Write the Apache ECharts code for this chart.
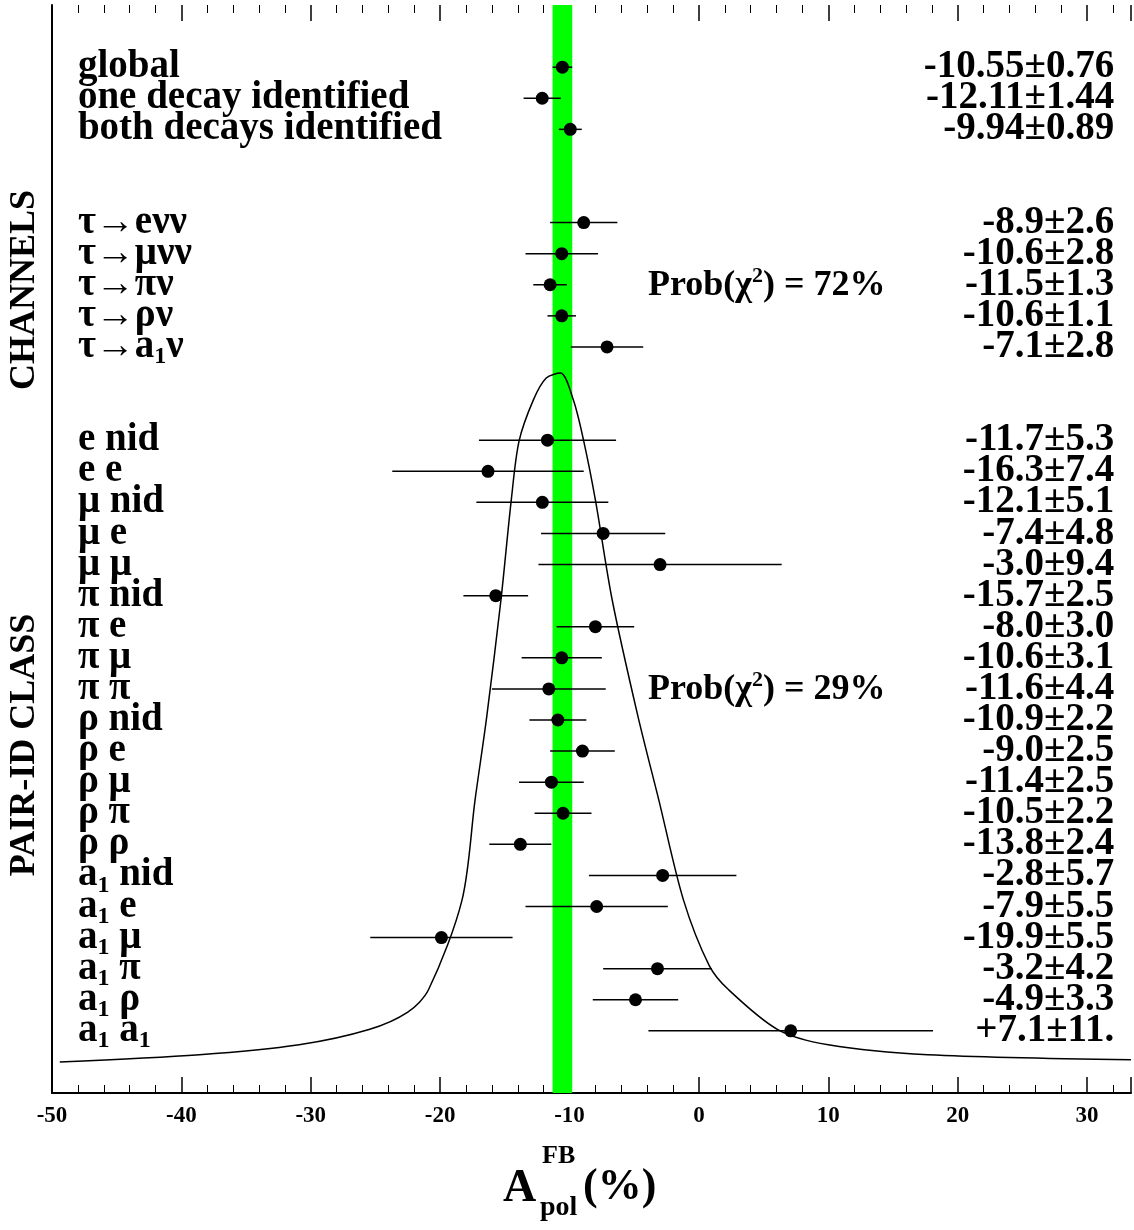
<!DOCTYPE html>
<html><head><meta charset="utf-8">
<script src="https://cdn.jsdelivr.net/npm/echarts@6/dist/echarts.min.js"></script>
<style>html,body{margin:0;background:#fff}#c{width:1134px;height:1230px}</style>
</head><body><div id="c"></div>
<script>
// row labels (rich text), row positions, values and errors
var labels = ['global', 'one decay identified', 'both decays identified',
  'τ→eνν', 'τ→μνν', 'τ→πν', 'τ→ρν', 'τ→a{s|1}ν',
  'e nid', 'e e', 'μ nid', 'μ e', 'μ μ', 'π nid', 'π e', 'π μ', 'π π',
  'ρ nid', 'ρ e', 'ρ μ', 'ρ π', 'ρ ρ',
  'a{s|1} nid', 'a{s|1} e', 'a{s|1} μ', 'a{s|1} π', 'a{s|1} ρ', 'a{s|1} a{s|1}']
var rows = [0, 1, 2, 5, 6, 7, 8, 9, 12, 13, 14, 15, 16, 17, 18, 19, 20, 21, 22, 23, 24, 25, 26, 27, 28, 29, 30, 31]
var values = [-10.55, -12.11, -9.94, -8.9, -10.6, -11.5, -10.6, -7.1,
  -11.7, -16.3, -12.1, -7.4, -3.0, -15.7, -8.0, -10.6, -11.6,
  -10.9, -9.0, -11.4, -10.5, -13.8, -2.8, -7.9, -19.9, -3.2, -4.9, 7.1]
var errors = [0.76, 1.44, 0.89, 2.6, 2.8, 1.3, 1.1, 2.8,
  5.3, 7.4, 5.1, 4.8, 9.4, 2.5, 3.0, 3.1, 4.4,
  2.2, 2.5, 2.5, 2.2, 2.4, 5.7, 5.5, 5.5, 4.2, 3.3, 11]
var valueText = ['-10.55±0.76', '-12.11±1.44', '-9.94±0.89', '-8.9±2.6', '-10.6±2.8', '-11.5±1.3', '-10.6±1.1', '-7.1±2.8',
  '-11.7±5.3', '-16.3±7.4', '-12.1±5.1', '-7.4±4.8', '-3.0±9.4', '-15.7±2.5', '-8.0±3.0', '-10.6±3.1', '-11.6±4.4',
  '-10.9±2.2', '-9.0±2.5', '-11.4±2.5', '-10.5±2.2', '-13.8±2.4', '-2.8±5.7', '-7.9±5.5', '-19.9±5.5', '-3.2±4.2', '-4.9±3.3', '+7.1±11.']
// curve: x value, row position
var curveX = [-49.4, -38.6, -30.9, -25.5, -22.5, -20.9, -18.3, -17.3, -16.4, -15.3, -14.5, -13.9, -12.8, -11.8, -10.7, -9.7, -8.9, -8.0, -6.7, -4.7, -3.1, -1.2, 0.8, 2.3, 6.1, 10, 17.7, 33.4]
var curveY = [32.0, 31.77, 31.45, 30.96, 30.4, 29.68, 26.78, 23.57, 20.9, 17.14, 13.92, 12.03, 10.71, 10.0, 9.84, 10.71, 12.03, 13.92, 17.14, 20.9, 23.57, 26.78, 28.9, 29.68, 30.96, 31.45, 31.77, 31.93]
var band = [-10.55 - 0.76, -10.55 + 0.76]

var font = 'Liberation Serif'
var rich = { s: { fontSize: 24, fontWeight: 'bold', fontFamily: font, color: '#000', verticalAlign: 'bottom', padding: [20, 0, 0, 0] } }
var chart = echarts.init(document.getElementById('c'))
var pts = values.map(function (v, i) { return [v, rows[i], errors[i]] })

var axisCommon = {
  type: 'value', min: -50, max: 33.4, interval: 10,
  axisLine: { onZero: false, lineStyle: { color: '#000', width: 2 } },
  axisTick: { inside: true, length: 16, lineStyle: { color: '#000', width: 1.5 } },
  minorTick: { show: true, splitNumber: 5, length: 8, lineStyle: { color: '#000' } },
  splitLine: { show: false }
}
chart.setOption({
  animation: false,
  grid: { left: 52, right: 0, top: 5, bottom: 137 },
  xAxis: [
    Object.assign({}, axisCommon, {
      position: 'bottom',
      axisLabel: { color: '#000', fontSize: 23, fontWeight: 'bold', fontFamily: font, margin: 12,
        formatter: function (v) { return v > 33 ? '' : v } }
    }),
    Object.assign({}, axisCommon, { position: 'top', axisLine: { show: false, onZero: false }, axisLabel: { show: false } })
  ],
  yAxis: { type: 'value', min: -2, max: 33, inverse: true, axisLine: { show: true, onZero: false, lineStyle: { color: '#000', width: 2 } },
    axisTick: { show: false }, axisLabel: { show: false }, splitLine: { show: false } },
  series: [
    { type: 'line', data: [], markArea: { silent: true, itemStyle: { color: '#00ff00', opacity: 1 }, data: [[{ xAxis: band[0] }, { xAxis: band[1] }]] } },
    { type: 'line', data: curveX.map(function (x, i) { return [x, curveY[i]] }), smooth: 0.3, symbol: 'none',
      lineStyle: { color: '#000', width: 1.5 } },
    { type: 'custom', data: pts, renderItem: function (params, api) {
        var a = api.coord([api.value(0) - api.value(2), api.value(1)])
        var b = api.coord([api.value(0) + api.value(2), api.value(1)])
        var c = api.coord([api.value(0), api.value(1)])
        return { type: 'group', children: [
          { type: 'line', shape: { x1: a[0], y1: a[1], x2: b[0], y2: b[1] }, style: { stroke: '#000', lineWidth: 1.5 } },
          { type: 'circle', shape: { cx: c[0], cy: c[1], r: 6.5 }, style: { fill: '#000' } }
        ] }
      } },
    { type: 'scatter', symbolSize: 0, itemStyle: { opacity: 1 }, data: rows.map(function (r, i) { return { value: [-48.0, r], label: { formatter: labels[i] } } }),
      label: { show: true, position: 'right', distance: 0, color: '#000', fontSize: 39, fontWeight: 'bold', fontFamily: font, rich: rich } },
    { type: 'scatter', symbolSize: 0, itemStyle: { opacity: 1 }, data: rows.map(function (r, i) { return { value: [32.1, r], label: { formatter: valueText[i] } } }),
      label: { show: true, position: 'left', distance: 0, color: '#000', fontSize: 39, fontWeight: 'bold', fontFamily: font } }
  ],
  graphic: [
    { type: 'text', x: 25, y: 290, rotation: Math.PI / 2, style: { text: 'CHANNELS', font: 'bold 36px ' + font, fill: '#000', align: 'center', verticalAlign: 'middle' } },
    { type: 'text', x: 25, y: 745, rotation: Math.PI / 2, style: { text: 'PAIR-ID CLASS', font: 'bold 36px ' + font, fill: '#000', align: 'center', verticalAlign: 'middle' } },
    { type: 'text', x: 648, y: 286, style: { text: 'Prob(χ{p|2}) = 72%', font: 'bold 36px ' + font, fill: '#000', verticalAlign: 'middle',
        rich: { p: { fontSize: 22, fontWeight: 'bold', fontFamily: font, fill: '#000', padding: [0, 0, 20, 0] } } } },
    { type: 'text', x: 648, y: 690, style: { text: 'Prob(χ{p|2}) = 29%', font: 'bold 36px ' + font, fill: '#000', verticalAlign: 'middle',
        rich: { p: { fontSize: 22, fontWeight: 'bold', fontFamily: font, fill: '#000', padding: [0, 0, 20, 0] } } } },
    { type: 'text', x: 503, y: 1166, style: { text: 'A', font: 'bold 46px ' + font, fill: '#000' } },
    { type: 'text', x: 542, y: 1143, style: { text: 'FB', font: 'bold 26px ' + font, fill: '#000' } },
    { type: 'text', x: 540, y: 1194, style: { text: 'pol', font: 'bold 28px ' + font, fill: '#000' } },
    { type: 'text', x: 583, y: 1166, style: { text: '(%)', font: 'bold 44px ' + font, fill: '#000' } }
  ]
})
</script></body></html>
